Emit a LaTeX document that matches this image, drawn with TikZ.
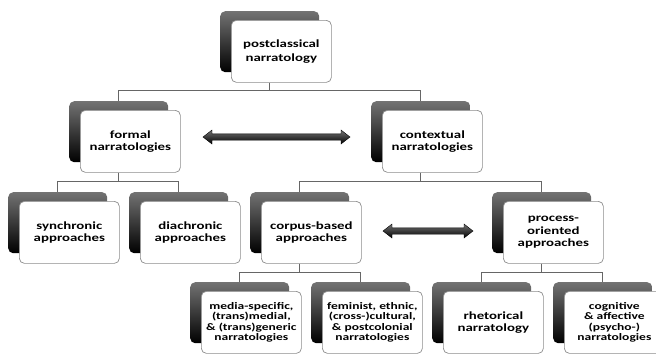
\documentclass[tikz,border=0pt]{standalone}
\usepackage{fontspec}
\setmainfont{Carlito}[FakeStretch=1.35]
\usetikzlibrary{calc}
\tikzset{
  front/.style={draw=black!45, line width=0.7pt, fill=white, rounded corners=5pt,
    minimum width=100pt, minimum height=62pt, anchor=north west, inner sep=1pt,
    align=center},
  lone/.style={font=\bfseries\fontsize{11}{14.5}\selectfont},
  ltwo/.style={font=\bfseries\fontsize{11}{12.5}\selectfont},
  lfour/.style={font=\bfseries\fontsize{10}{10.5}\selectfont},
  shadowbox/.style={rounded corners=5pt, minimum width=99pt, minimum height=61pt,
    anchor=north west, top color=black!55, bottom color=black, inner sep=0pt},
  conn/.style={draw=black!60, line width=0.7pt},
  dblarrow/.style={top color=black!55, bottom color=black, draw=black, line width=0.4pt}
}
\newcommand\mkbox[5]{%
  \node[shadowbox] (#1-s) at (#2-11,#3-9) {};
  \node[front,#5] (#1) at (#2,#3) {#4};
}
\newcommand\mkarrow[2]{%
  \path[dblarrow] (#1) -- ($(#1)+(9,-7)$) -- ($(#1)+(9,-3.2)$) -- ($(#2)+(-9,-3.2)$)
    -- ($(#2)+(-9,-7)$) -- (#2) -- ($(#2)+(-9,7)$) -- ($(#2)+(-9,3.2)$)
    -- ($(#1)+(9,3.2)$) -- ($(#1)+(9,7)$) -- cycle;
}
\begin{document}
\begin{tikzpicture}[x=1pt,y=-1pt]
\useasboundingbox (0,0) rectangle (656,354);
% level 1
\mkbox{post}{231}{20}{postclassical\\narratology}{lone}
% level 2
\mkbox{formal}{80}{110}{formal\\narratologies}{ltwo}
\mkbox{ctx}{382}{110}{contextual\\narratologies}{ltwo}
% level 3
\mkbox{sync}{19}{201}{synchronic\\approaches}{ltwo}
\mkbox{diac}{140}{201}{diachronic\\approaches}{ltwo}
\mkbox{corpus}{261}{201}{corpus-based\\approaches}{ltwo}
\mkbox{proc}{503}{201}{process-\\oriented\\approaches}{ltwo}
% level 4
\mkbox{media}{201}{291}{media-specific,\\(trans)medial,\\\& (trans)generic\\narratologies}{lfour}
\mkbox{fem}{322}{291}{feminist, ethnic,\\(cross-)cultural,\\\& postcolonial\\narratologies}{lfour}
\mkbox{rhet}{443}{291}{rhetorical\\narratology}{ltwo}
\mkbox{cogn}{564}{291}{cognitive\\\& affective\\(psycho-)\\narratologies}{lfour}
% connectors
\draw[conn] (post-s.north |- post.south) -- ++(0,8) -| (formal-s.north);
\draw[conn] (post-s.north |- post.south) -- ++(0,8) -| (ctx-s.north);
\draw[conn] (formal-s.north |- formal.south) -- ++(0,9) -| (sync-s.north);
\draw[conn] (formal-s.north |- formal.south) -- ++(0,9) -| (diac-s.north);
\draw[conn] (ctx-s.north |- ctx.south) -- ++(0,9) -| (corpus-s.north);
\draw[conn] (ctx-s.north |- ctx.south) -- ++(0,9) -| (proc-s.north);
\draw[conn] (corpus-s.north |- corpus.south) -- ++(0,9) -| (media-s.north);
\draw[conn] (corpus-s.north |- corpus.south) -- ++(0,9) -| (fem-s.north);
\draw[conn] (proc-s.north |- proc.south) -- ++(0,9) -| (rhet-s.north);
\draw[conn] (proc-s.north |- proc.south) -- ++(0,9) -| (cogn-s.north);
% double arrows
\coordinate (a1L) at (203,137);
\coordinate (a1R) at (350,137);
\coordinate (a2L) at (383,231);
\coordinate (a2R) at (473,231);
\mkarrow{a1L}{a1R}
\mkarrow{a2L}{a2R}
\end{tikzpicture}
\end{document}
